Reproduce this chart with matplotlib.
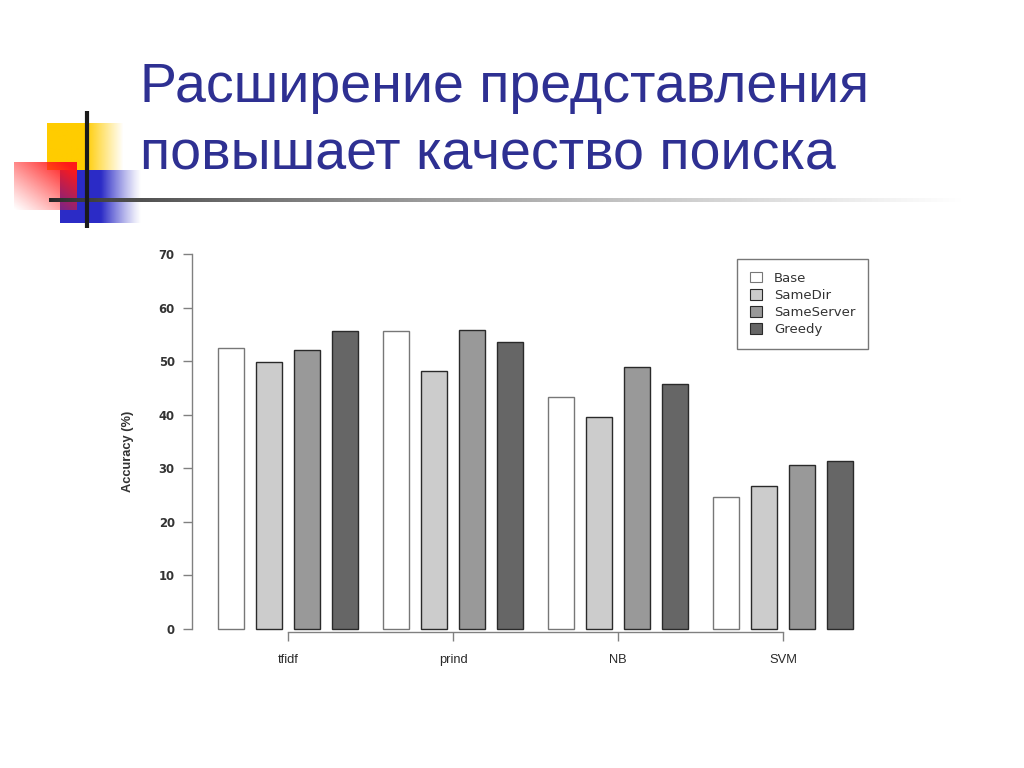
import numpy as np
import matplotlib
matplotlib.use('Agg')
import matplotlib.pyplot as plt
from matplotlib.patches import Patch

plt.rcParams['font.family'] = ['Liberation Sans', 'DejaVu Sans']

# values (accuracy, %)
methods = ['tfidf', 'prind', 'NB', 'SVM']
series_names = ['Base', 'SameDir', 'SameServer', 'Greedy']
base = [52.4, 55.6, 43.2, 24.6]
same_dir = [49.8, 48.2, 39.6, 26.7]
same_server = [52.1, 55.8, 48.9, 30.6]
greedy = [55.7, 53.6, 45.7, 31.4]
y_ticks = [0, 10, 20, 30, 40, 50, 60, 70]

title_lines = ['Расширение представления', 'повышает качество поиска']

bar_colors = ['#ffffff', '#cccccc', '#999999', '#666666']
edge_colors = ['#777777', '#2a2a2a', '#2a2a2a', '#2a2a2a']

W, H = 1024, 768
fig = plt.figure(figsize=(W / 100, H / 100), dpi=100)

# ---- slide decoration (pixel coordinates) ----
deco = fig.add_axes([0, 0, 1, 1], zorder=0)
deco.set_xlim(0, W)
deco.set_ylim(H, 0)
deco.axis('off')


def grad_rect(ax, x0, x1, y0, y1, rgb, alpha):
    img = np.zeros((alpha.shape[0], alpha.shape[1], 4))
    img[..., :3] = rgb
    img[..., 3] = alpha
    ax.imshow(img, extent=(x0, x1, y1, y0), interpolation='bilinear', aspect='auto')


# yellow square fading right
xs = np.linspace(0, 1, 80)
a = np.clip(1 - (xs - 0.5) / 0.5, 0, 1)
grad_rect(deco, 47, 124, 123, 170, (1.0, 0.8, 0.0), np.tile(a, (10, 1)))

# blue square fading right
a = np.clip(1 - (xs - 0.5) / 0.5, 0, 1) ** 1.2
grad_rect(deco, 60, 142, 170, 223, (0.17, 0.17, 0.78), np.tile(a, (10, 1)))

# red square fading towards bottom-left
gx, gy = np.meshgrid(np.linspace(0, 1, 60), np.linspace(0, 1, 60))
a = np.clip(0.55 * gx + 0.55 * (1 - gy), 0, 1) ** 1.1
grad_rect(deco, 14, 77, 162, 210, (1.0, 0.1, 0.1), a)

# black vertical bar
deco.plot([87, 87], [111, 228], color='#1a1a1a', lw=3, solid_capstyle='butt')

# horizontal rule fading to white
t = np.linspace(0, 1, 400)
g = 0.15 + 0.85 * t ** 0.7
line_img = np.tile(np.stack([g, g, g], axis=-1), (4, 1, 1))
deco.imshow(line_img, extent=(49, 962, 202, 198), interpolation='bilinear', aspect='auto')

# title
for i, line in enumerate(title_lines):
    fig.text(140 / W, 1 - (102 + 68 * i) / H, line, fontsize=40, color='#2e3092',
             va='baseline', ha='left', family=['Liberation Sans', 'DejaVu Sans'])

# ---- bar chart ----
ax = fig.add_axes([192 / W, 1 - 632 / H, (868 - 192) / W, (632 - 254) / H], zorder=1)
ax.patch.set_alpha(0)

px = 38.0                    # pixels per data unit (bar pitch)
group_step = 165.0 / px
bar_w = 26.0 / px
centers = np.arange(len(methods)) * group_step

all_series = [base, same_dir, same_server, greedy]
for i, vals in enumerate(all_series):
    ax.bar(centers + (i - 1.5), vals, width=bar_w, color=bar_colors[i],
           edgecolor=edge_colors[i], linewidth=1.0, zorder=2)

ax.set_xlim((192 - 288) / px, (868 - 288) / px)
ax.set_ylim(-0.6, 70)

for side in ['top', 'right']:
    ax.spines[side].set_visible(False)
ax.spines['left'].set_bounds(0, 70)
ax.spines['bottom'].set_bounds(centers[0], centers[-1])
for side in ['left', 'bottom']:
    ax.spines[side].set_color('#808080')
    ax.spines[side].set_linewidth(1.0)

ax.set_yticks(y_ticks)
ax.set_xticks(centers)
ax.set_xticklabels(methods)
ax.tick_params(axis='y', length=6.5, width=1, color='#808080', pad=6,
               labelcolor='#333333')
ax.tick_params(axis='x', length=6.5, width=1, color='#808080', pad=9,
               labelsize=9.3, labelcolor='#2a2a2a')
for lab in ax.get_yticklabels():
    lab.set_family('DejaVu Sans')
    lab.set_fontweight('bold')
    lab.set_fontsize(8.4)
ax.set_ylabel('Accuracy (%)', fontsize=9.3, fontweight='bold', color='#333333')
ax.yaxis.set_label_coords(-0.086, 0.478)

handles = [Patch(facecolor=bar_colors[i], edgecolor=edge_colors[i], linewidth=0.8)
           for i in range(len(series_names))]
leg = ax.legend(handles, series_names, loc='upper right',
                bbox_to_anchor=(868 / W, 1 - 259 / H), bbox_transform=fig.transFigure,
                prop={'family': 'DejaVu Sans', 'size': 9.5}, frameon=True,
                fancybox=False, handlelength=0.9, handleheight=0.9,
                handletextpad=0.95, labelspacing=0.32, borderpad=0.95,
                borderaxespad=0)
leg.get_frame().set_edgecolor('#555555')
leg.get_frame().set_linewidth(1.0)
for txt in leg.get_texts():
    txt.set_color('#333333')

fig.savefig('out.png', dpi=100)
